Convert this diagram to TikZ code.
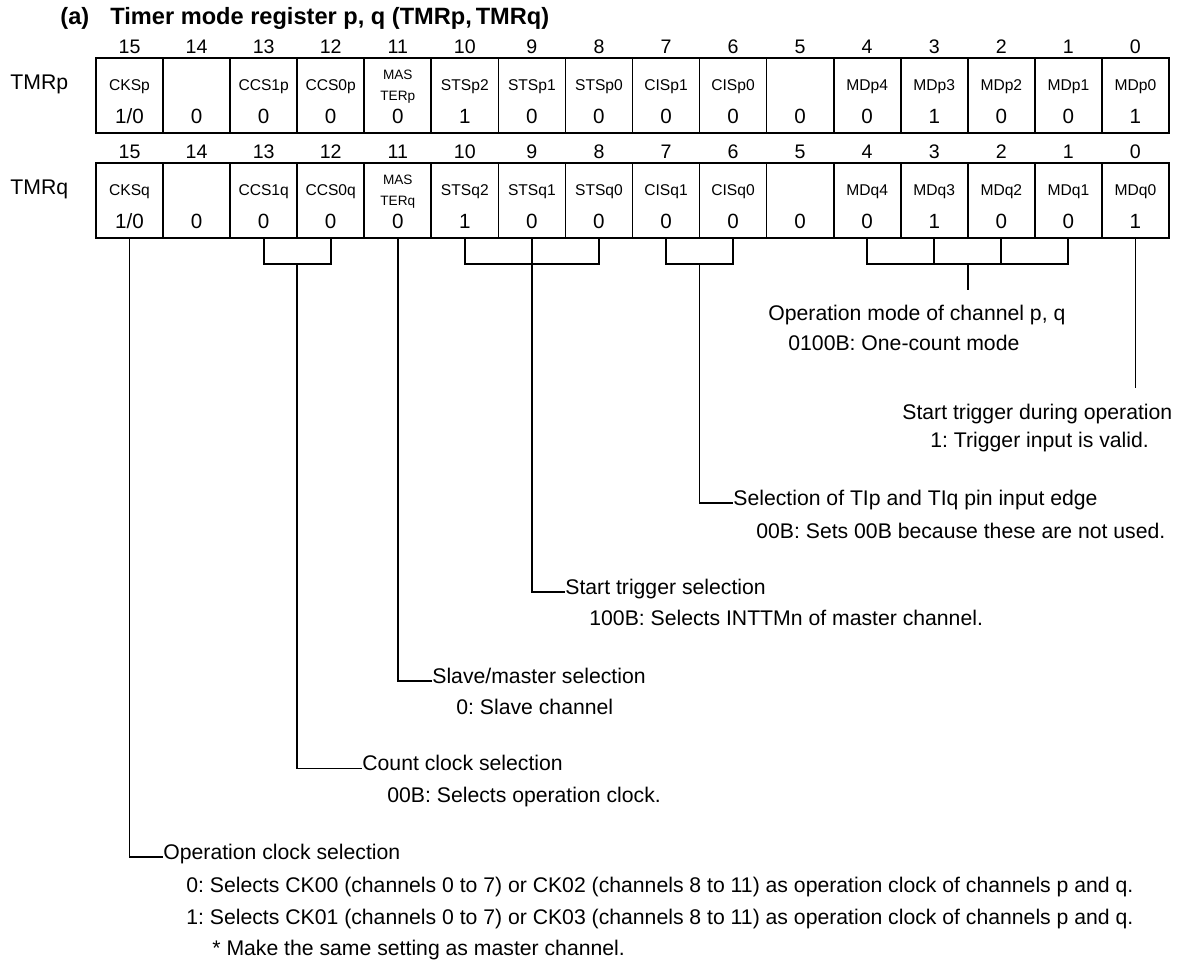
\documentclass[tikz,border=0pt]{standalone}
\usepackage{fontspec}
\setmainfont{Liberation Sans}
\usetikzlibrary{calc}
\frenchspacing

\newcommand\bodyfont{\fontsize{10.6}{12.7}\selectfont}

\tikzset{
  cell/.style={draw, line width=0.85pt, minimum width=33.53pt, minimum height=37.5pt, inner sep=0pt, outer sep=0pt},
  regframe/.style={line width=1.4pt},
  bitno/.style={anchor=base, inner sep=0pt, font=\fontsize{9.8}{11}\selectfont},
  fld/.style={inner sep=0pt, font=\fontsize{7.8}{9}\selectfont},
  mas/.style={inner sep=0pt, align=center, font=\fontsize{6.8}{10.3}\selectfont},
  val/.style={anchor=base, inner sep=0pt, font=\fontsize{10.3}{12}\selectfont},
  reg/.style={anchor=base west, inner sep=0pt, font=\bodyfont},
  note/.style={anchor=base west, inner sep=0pt, font=\bodyfont},
  conn/.style={line width=0.9pt},
}

\begin{document}
\begin{tikzpicture}[x=0.5pt, y=-0.5pt]
    \useasboundingbox (0,0) rectangle (1180,962);
    % Title
    \node[anchor=base west, inner sep=0pt, font=\bfseries\fontsize{11.8}{14}\selectfont] (tag) at (60,25) {(a)};
    \node[anchor=base west, inner sep=0pt, font=\bfseries\fontsize{11.8}{14}\selectfont] (title) at (110,25) {Timer mode register p, q (TMRp,\,TMRq)};
    % Registers TMRp, TMRq
    \foreach \rg/\ty in {p/58, q/163} {
        \node[reg] (tmr\rg) at (10,\ty+32) {TMR\rg};
        \foreach \bn/\nm/\vl [count=\i from 0] in {15/CKS\rg/{1/0}, 14//0, 13/CCS1\rg/0, 12/CCS0\rg/0, 11//0, 10/STS\rg2/1, 9/STS\rg1/0, 8/STS\rg0/0, 7/CIS\rg1/0, 6/CIS\rg0/0, 5//0, 4/MD\rg4/0, 3/MD\rg3/1, 2/MD\rg2/0, 1/MD\rg1/0, 0/MD\rg0/1} {
            \pgfmathsetmacro\cx{129.53+67.06*\i}
            \node[cell] (\rg\bn) at (\cx,\ty+37.5) {};
            \node[bitno] (\rg\bn h) at ([yshift=2.35pt]\rg\bn.north) {\bn};
            \node[fld] (\rg\bn n) at ([yshift=4.5pt]\rg\bn.center) {\nm};
            \node[val] (\rg\bn v) at ([yshift=-14.25pt]\rg\bn.center) {\vl};
        }
        \node[mas] (\rg11m) at ([yshift=4.5pt]\rg11.center) {MAS\\TER\rg};
        \draw[regframe] (\rg15.north west) rectangle (\rg0.south east);
    }
    % Descriptions
    \node[note] (mdlab) at (768,321) {Operation mode of channel p, q};
    \node[note] (mdval) at (788,351) {0100B: One-count mode};
    \node[note] (trglab) at (902,419.5) {Start trigger during operation};
    \node[note] (trgval) at (930,448) {1: Trigger input is valid.};
    \node[note] (cislab) at (733,505.7) {Selection of TIp and TIq pin input edge};
    \node[note] (cisval) at (756,538.3) {00B: Sets 00B because these are not used.};
    \node[note] (stslab) at (565,594.3) {Start trigger selection};
    \node[note] (stsval) at (589,626) {100B: Selects INTTMn of master channel.};
    \node[note] (maslab) at (432,683.5) {Slave/master selection};
    \node[note] (masval) at (456,715) {0: Slave channel};
    \node[note] (ccslab) at (362,771) {Count clock selection};
    \node[note] (ccsval) at (387,802.7) {00B: Selects operation clock.};
    \node[note] (ckslab) at (163,859.5) {Operation clock selection};
    \node[note] (cksval0) at (186,892.5) {0: Selects CK00 (channels 0 to 7) or CK02 (channels 8 to 11) as operation clock of channels p and q.};
    \node[note] (cksval1) at (186,924.3) {1: Selects CK01 (channels 0 to 7) or CK03 (channels 8 to 11) as operation clock of channels p and q.};
    \node[note] (cksnote) at (212,956) {* Make the same setting as master channel.};
    % Connectors
    \draw[conn] (q15.south) |- ([yshift=1.2pt]ckslab.base west);
    \draw[conn] (q13.south) -- ++(0,26) -| (q12.south);
    \draw[conn] ($(q13.south)!.5!(q12.south)+(0,26)$) |- ([yshift=1.2pt]ccslab.base west);
    \draw[conn] (q11.south) |- ([yshift=1.2pt]maslab.base west);
    \draw[conn] (q10.south) -- ++(0,26) -| (q8.south);
    \draw[conn] (q9.south) |- ([yshift=1.2pt]stslab.base west);
    \draw[conn] (q7.south) -- ++(0,26) -| (q6.south);
    \draw[conn] ($(q7.south)!.5!(q6.south)+(0,26)$) |- ([yshift=1.2pt]cislab.base west);
    \draw[conn] (q4.south) -- ++(0,26) -| (q1.south);
    \draw[conn] (q3.south) -- ++(0,26) (q2.south) -- ++(0,26);
    \draw[conn] ($(q3.south)!.5!(q2.south)+(0,26)$) -- ++(0,26);
    \draw[conn] (q0.south) -- ++(0,150);
\end{tikzpicture}
\end{document}
